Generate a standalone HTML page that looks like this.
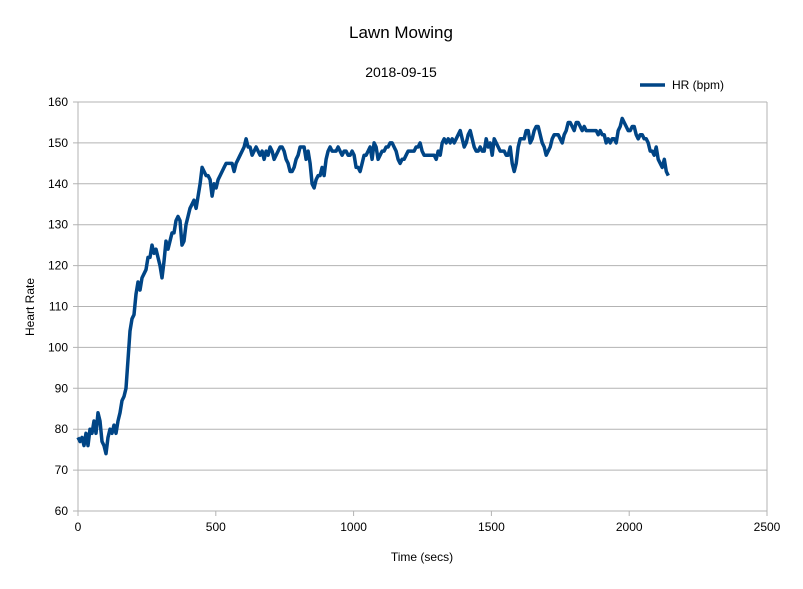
<!DOCTYPE html>
<html><head><meta charset="utf-8"><style>
body{margin:0;background:#fff;}
svg text{font-family:"Liberation Sans",sans-serif;fill:#000;}
</style></head><body>
<svg id="chart" width="803" height="584" xmlns="http://www.w3.org/2000/svg">
<rect width="803" height="584" fill="#fff"/>
<text x="401" y="38" font-size="17" text-anchor="middle">Lawn Mowing</text>
<text x="401" y="77" font-size="14" text-anchor="middle">2018-09-15</text>
<g>
<line x1="640" y1="85" x2="665" y2="85" stroke="#004586" stroke-width="3.5"/>
<text x="672" y="89" font-size="12">HR (bpm)</text>
</g>
<g id="grid"></g>
<g id="axes"></g>
<text transform="translate(34,307) rotate(-90)" font-size="12" text-anchor="middle">Heart Rate</text>
<text x="422" y="561" font-size="12" text-anchor="middle">Time (secs)</text>
</svg>
<script>
const yTicks=[60,70,80,90,100,110,120,130,140,150,160];
const xTicks=[0,500,1000,1500,2000,2500];
const sampleInterval=7.26;
const hr=[78,77,78,76,79,76,80,79,82,79,84,82,77,76,74,78,80,79,81,79,82,84,87,88,90,97,104,107,108,113,116,114,117,118,119,122,122,125,123,124,122,120,117,121,126,124,126,128,128,131,132,131,125,126,130,132,134,135,136,134,137,140,144,143,142,142,141,137,140,139,141,142,143,144,145,145,145,145,143,145,146,147,148,149,151,149,149,147,148,149,148,147,148,146,148,147,149,148,146,147,148,149,149,148,146,145,143,143,144,146,147,149,149,149,146,148,145,140,139,141,142,142,144,142,146,148,149,148,148,148,149,148,147,148,148,147,147,148,147,144,144,143,145,147,147,148,149,146,150,149,146,147,148,148,149,149,150,150,149,148,146,145,146,146,147,148,148,148,148,149,149,150,148,147,147,147,147,147,147,146,148,147,150,151,150,151,150,151,150,151,152,153,151,149,150,152,153,151,149,148,148,149,148,148,151,149,150,147,151,150,149,148,148,148,147,147,149,145,143,145,149,151,151,151,153,153,150,151,153,154,154,152,150,149,147,148,149,151,152,152,152,151,150,152,153,155,155,154,153,155,155,154,153,154,153,153,153,153,153,153,152,153,152,152,150,151,150,151,151,150,153,154,156,155,154,153,153,154,154,152,151,152,152,151,151,150,148,148,147,149,146,145,144,146,143,142];
const X0=78,X1=767,Y0=511,Y1=102;
const xs=v=>X0+(v-0)/2500*(X1-X0);
const ys=v=>Y0-(v-60)/100*(Y0-Y1);
const NS="http://www.w3.org/2000/svg";
const svg=document.getElementById('chart');
const grid=document.getElementById('grid'),axes=document.getElementById('axes');
function mk(tag,attrs,parent){const e=document.createElementNS(NS,tag);for(const k in attrs)e.setAttribute(k,attrs[k]);parent.appendChild(e);return e;}
yTicks.forEach(t=>{
 const l=mk('line',{x1:X0-5,x2:X1,y1:ys(t),y2:ys(t),stroke:'#b3b3b3','stroke-width':1},grid);
 
 
 const tx=mk('text',{x:X0-10,y:ys(t)+4,'font-size':12,'text-anchor':'end'},axes);
 tx.textContent=t;
 
 
});
xTicks.forEach(t=>{
 const l=mk('line',{x1:xs(t),x2:xs(t),y1:Y0,y2:Y0+5,stroke:'#b3b3b3','stroke-width':1},grid);
 
 
 const tx=mk('text',{x:xs(t),y:Y0+20,'font-size':12,'text-anchor':'middle'},axes);
 tx.textContent=t;
 
 
});
const va=mk('line',{x1:X0,x2:X0,y1:Y1,y2:Y0,stroke:'#b3b3b3'},grid);


const vb=mk('line',{x1:X1,x2:X1,y1:Y1,y2:Y0+5,stroke:'#b3b3b3'},grid);


const pts=hr.map((v,i)=>xs(i*sampleInterval).toFixed(1)+','+ys(v).toFixed(1)).join(' ');
const line=mk('polyline',{points:pts,fill:'none',stroke:'#004586','stroke-width':3.5,'stroke-linejoin':'round'},svg);


</script>
</body></html>
